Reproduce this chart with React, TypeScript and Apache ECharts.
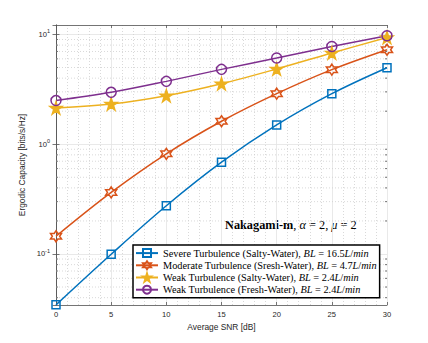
import React, { useEffect, useRef } from "react";
import * as echarts from "echarts";

const snr = [0, 5, 10, 15, 20, 25, 30];
const severeSalty = [0.0344, 0.0995, 0.275, 0.686, 1.5, 2.89, 4.98];
const moderateSresh = [0.145, 0.364, 0.818, 1.62, 2.89, 4.78, 7.26];
const weakSalty = [2.14, 2.33, 2.77, 3.56, 4.85, 6.78, 9.39];
const weakFresh = [2.5, 2.97, 3.74, 4.81, 6.1, 7.78, 9.73];

const seriesNames = [
  "Severe Turbulence (Salty-Water), BL = 16.5L/min",
  "Moderate Turbulence (Sresh-Water), BL = 4.7L/min",
  "Weak Turbulence (Salty-Water), BL = 2.4L/min",
  "Weak Turbulence (Fresh-Water), BL = 2.4L/min",
];
const legendRich = [
  "{n|Severe Turbulence (Salty-Water), }{i|BL}{n| = 16.5}{i|L}{n|/}{i|min}",
  "{n|Moderate Turbulence (Sresh-Water), }{i|BL}{n| = 4.7}{i|L}{n|/}{i|min}",
  "{n|Weak Turbulence (Salty-Water), }{i|BL}{n| = 2.4}{i|L}{n|/}{i|min}",
  "{n|Weak Turbulence (Fresh-Water), }{i|BL}{n| = 2.4}{i|L}{n|/}{i|min}",
];
const colors = ["#0072BD", "#D95319", "#EDB120", "#7E2F8E"];
const yMin = 0.0343;
const yMax = 12.2;
const minorYValues = [
  0.04, 0.05, 0.06, 0.07, 0.08, 0.09,
  0.2, 0.3, 0.4, 0.5, 0.6, 0.7, 0.8, 0.9,
  2, 3, 4, 5, 6, 7, 8, 9,
];

const HEXAGRAM =
  "path://M50 0L64.43 25L93.3 25L78.87 50L93.3 75L64.43 75L50 100L35.57 75L6.7 75L21.13 50L6.7 25L35.57 25Z";
const PENTAGRAM =
  "path://M50 0L61.23 34.55L97.55 34.55L68.17 55.9L79.39 90.45L50 69.1L20.61 90.45L31.83 55.9L2.45 34.55L38.77 34.55Z";

const SERIF = "'Liberation Serif', 'Times New Roman', serif";
const SANS = "'Liberation Sans', Arial, sans-serif";
const TXT = "#262626";

export default function App() {
  const ref = useRef<HTMLDivElement>(null);
  useEffect(() => {
    if (!ref.current) return;
    const chart = echarts.init(ref.current, undefined, { renderer: "svg" });
    const mk = (
      idx: number,
      data: number[],
      symbol: string,
      size: number,
      filled: boolean
    ) => ({
      name: seriesNames[idx],
      type: "line",
      data: snr.map((x, i) => [x, data[i]]),
      smooth: 0.35,
      clip: false,
      symbol,
      symbolSize: size,
      showAllSymbol: true,
      z: 3,
      lineStyle: { color: colors[idx], width: 1.5 },
      itemStyle: {
        color: filled ? colors[idx] : "rgba(255,255,255,0)",
        borderColor: colors[idx],
        borderWidth: 1.5,
      },
    });
    const serifTxt = { fontFamily: SERIF, fontSize: 10.3, color: "#000" };
    chart.setOption({
      animation: false,
      grid: { left: 56, right: 41, top: 25, bottom: 38 },
      xAxis: [
        {
          type: "value",
          min: 0,
          max: 30,
          interval: 5,
          name: "Average SNR [dB]",
          nameLocation: "middle",
          nameGap: 16,
          nameTextStyle: { fontFamily: SANS, fontSize: 8.4, color: TXT },
          axisLine: { lineStyle: { color: "#555", width: 0.8 } },
          axisTick: { inside: true, length: 3, lineStyle: { color: "#555", width: 0.8 } },
          axisLabel: { margin: 5, fontFamily: SANS, fontSize: 7.6, color: TXT },
          splitLine: { show: true, lineStyle: { color: "#e3e3e3", width: 0.8 } },
          minorTick: { show: false, splitNumber: 5 },
          minorSplitLine: {
            show: true,
            lineStyle: { color: "#cfcfcf", width: 0.8, type: [1, 2] },
          },
        },
        {
          type: "value",
          position: "top",
          min: 0,
          max: 30,
          interval: 5,
          axisLine: { lineStyle: { color: "#555", width: 0.8 } },
          axisTick: { inside: true, length: 3, lineStyle: { color: "#555", width: 0.8 } },
          axisLabel: { show: false },
          splitLine: { show: false },
        },
      ],
      yAxis: [
        {
          type: "log",
          logBase: 10,
          min: yMin,
          max: yMax,
          name: "Ergodic Capacity [bits/s/Hz]",
          nameLocation: "middle",
          nameGap: 22,
          nameTextStyle: { fontFamily: SANS, fontSize: 8.4, color: TXT },
          axisLine: { show: true, lineStyle: { color: "#555", width: 0.8 } },
          axisTick: { inside: true, length: 3.5, lineStyle: { color: "#555", width: 0.8 } },
          axisLabel: {
            margin: 6,
            showMinLabel: false,
            showMaxLabel: false,
            formatter: (v: number) => {
              const e = Math.round(Math.log10(v));
              return "{b|10}{s|" + e + "}";
            },
            rich: {
              b: { fontFamily: SANS, fontSize: 7.6, color: TXT, verticalAlign: "middle" },
              s: {
                fontFamily: SANS,
                fontSize: 5.5,
                color: TXT,
                verticalAlign: "bottom",
                padding: [0, 0, 6, 0],
              },
            },
          },
          splitLine: { show: true, lineStyle: { color: "#e3e3e3", width: 0.8 } },
        },
        {
          type: "log",
          logBase: 10,
          min: yMin,
          max: yMax,
          position: "right",
          axisLine: { show: true, lineStyle: { color: "#555", width: 0.8 } },
          axisTick: { inside: true, length: 3.5, lineStyle: { color: "#555", width: 0.8 } },
          axisLabel: { show: false },
          splitLine: { show: false },
        },
      ],
      legend: {
        data: seriesNames,
        orient: "vertical",
        left: 133,
        top: 245,
        backgroundColor: "#fff",
        borderColor: "#000",
        borderWidth: 1.5,
        borderRadius: 0,
        padding: [2, 3, 2, 2],
        itemGap: 0,
        itemWidth: 22,
        itemHeight: 10,
        itemTextGap: 4,
        formatter: (name: string) => legendRich[seriesNames.indexOf(name)],
        textStyle: {
          ...serifTxt,
          lineHeight: 12.2,
          rich: {
            n: { ...serifTxt },
            i: { ...serifTxt, fontStyle: "italic" },
          },
        },
      },
      graphic: [
        {
          type: "text",
          left: 225,
          top: 219,
          style: {
            text: "{b|Nakagami-m}{n|, }{i|α}{n| = 2, }{i|μ}{n| = 2}",
            fontFamily: SERIF,
            fontSize: 12.3,
            fill: "#000",
            rich: {
              b: { fontFamily: SERIF, fontSize: 12.3, fontWeight: "bold", fill: "#000" },
              n: { fontFamily: SERIF, fontSize: 12.3, fill: "#000" },
              i: { fontFamily: SERIF, fontSize: 12.3, fontStyle: "italic", fill: "#000" },
            },
          },
        },
      ],
      series: [
        {
          type: "custom",
          coordinateSystem: "cartesian2d",
          xAxisIndex: 0,
          yAxisIndex: 0,
          silent: true,
          z: 1,
          clip: false,
          data: minorYValues.map((v) => [0, v]),
          encode: { x: 0, y: 1 },
          renderItem: (params: any, api: any) => {
            const v = api.value(1);
            const p0 = api.coord([0, v]);
            const p1 = api.coord([30, v]);
            return {
              type: "group",
              children: [
                {
                  type: "line",
                  shape: { x1: p0[0], y1: p0[1], x2: p1[0], y2: p1[1] },
                  style: { stroke: "#cfcfcf", lineWidth: 0.8, lineDash: [1, 2] },
                },
                {
                  type: "line",
                  shape: { x1: p0[0], y1: p0[1], x2: p0[0] + 2, y2: p0[1] },
                  style: { stroke: "#555", lineWidth: 0.8 },
                },
                {
                  type: "line",
                  shape: { x1: p1[0], y1: p1[1], x2: p1[0] - 2, y2: p1[1] },
                  style: { stroke: "#555", lineWidth: 0.8 },
                },
              ],
            };
          },
        },
        mk(0, severeSalty, "rect", 8, false),
        mk(1, moderateSresh, HEXAGRAM, 11, false),
        mk(2, weakSalty, PENTAGRAM, 12, true),
        mk(3, weakFresh, "circle", 10, false),
      ],
    });
    return () => chart.dispose();
  }, []);
  return (
    <div
      ref={ref}
      style={{ position: "fixed", left: 0, top: 0, width: 428, height: 343, background: "#fff" }}
    />
  );
}
